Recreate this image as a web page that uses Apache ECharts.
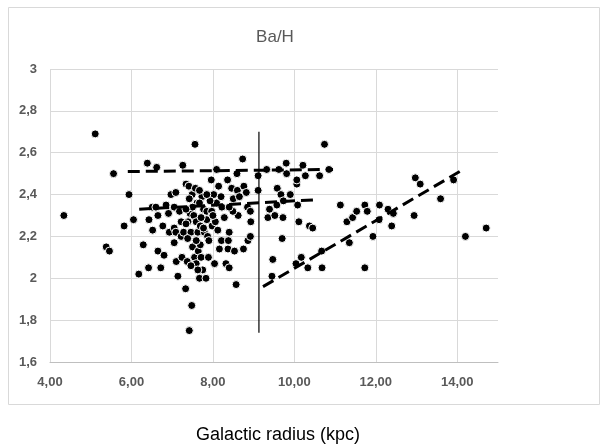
<!DOCTYPE html>
<html>
<head>
<meta charset="utf-8">
<script src="https://cdn.jsdelivr.net/npm/echarts@6/dist/echarts.min.js"></script>
<style>html,body{margin:0;padding:0;background:#fff;}#c{width:607px;height:448px;}</style>
</head>
<body>
<div id="c"></div>
<script>
var radius = [4.34,5.11,5.56,5.38,5.46,5.82,5.94,6.05,6.18,6.29,6.39,6.42,6.43,6.51,6.52,6.62,6.65,6.72,6.77,6.80,6.85,6.91,6.93,6.97,7.05,7.05,7.09,7.05,7.09,7.10,7.14,7.18,7.22,7.24,7.26,7.28,7.33,7.34,7.37,7.39,7.41,7.42,7.44,7.46,7.48,7.49,7.50,7.53,7.55,7.56,7.57,7.59,7.59,7.61,7.63,7.64,7.67,7.69,7.69,7.71,7.73,7.75,7.77,7.79,7.83,7.85,7.87,7.89,7.90,7.96,7.97,7.98,8.02,8.04,8.06,8.09,8.09,8.12,8.14,8.16,8.21,8.22,8.28,8.32,8.36,8.37,8.38,8.40,8.40,8.46,8.50,8.53,8.57,8.59,8.60,8.62,8.73,8.75,8.76,8.82,8.85,8.86,8.92,8.93,8.92,
7.42,7.50,7.67,7.85,7.71,7.38,7.59,7.77,7.93,8.00,7.67,7.34,7.22,7.85,7.46,7.63,7.34,8.20,8.49,8.65,8.40,6.65,6.60,
9.11,9.11,9.32,9.35,9.39,9.45,9.47,9.52,9.57,9.58,9.62,9.67,9.70,9.72,9.73,9.80,9.81,9.90,10.04,10.06,10.08,10.11,10.17,10.21,10.27,10.33,10.37,10.45,10.62,10.67,10.68,10.74,10.85,11.13,11.29,11.35,11.43,11.53,11.73,11.73,11.79,11.93,12.09,12.08,12.30,12.39,12.43,12.94,12.97,13.09,13.59,13.91,14.20,14.71,10.06];
var baH = [2.30,2.69,2.50,2.15,2.13,2.25,2.40,2.28,2.02,2.16,2.55,2.05,2.28,2.34,2.23,2.53,2.13,2.05,2.25,2.11,2.35,2.31,2.22,2.40,2.34,2.17,2.41,2.24,2.22,2.08,2.01,2.32,2.20,2.10,2.54,2.22,1.95,2.45,2.08,2.27,2.44,1.75,2.31,2.22,1.87,2.40,2.15,2.30,2.10,2.64,2.43,2.27,2.07,2.36,2.22,2.13,2.00,2.25,2.16,2.10,2.39,2.04,2.33,2.22,2.00,2.32,2.20,2.10,2.18,2.47,2.32,2.25,2.40,2.07,2.27,2.52,2.36,2.23,2.44,2.14,2.18,2.34,2.29,2.07,2.47,2.14,2.18,2.22,2.05,2.43,2.38,2.13,1.97,2.50,2.42,2.30,2.57,2.14,2.44,2.41,2.34,2.18,2.20,2.27,2.32,
2.38,2.34,2.36,2.28,2.29,2.19,2.18,2.24,2.37,2.30,2.42,2.33,2.27,2.40,2.06,2.04,2.26,2.39,2.32,2.39,2.34,2.30,2.34,
2.49,2.42,2.52,2.29,2.33,2.01,2.09,2.30,2.35,2.43,2.52,2.40,2.19,2.29,2.37,2.55,2.50,2.40,2.07,2.45,2.35,2.27,2.10,2.54,2.49,2.05,2.25,2.24,2.49,2.13,2.05,2.64,2.52,2.35,2.27,2.17,2.29,2.32,2.05,2.35,2.32,2.20,2.35,2.28,2.33,2.25,2.31,2.30,2.48,2.45,2.38,2.47,2.20,2.24,2.47];
var upperTrend = [[5.91,2.51],[10.95,2.52]];
var middleTrend = [[6.19,2.33],[10.49,2.375]];
var outerTrend = [[9.23,1.96],[14.06,2.51]];
var divider = [[9.13,1.74],[9.13,2.70]];
var xTicks = [4,6,8,10,12,14];
var yTicks = [1.6,1.8,2,2.2,2.4,2.6,2.8,3];

var points = radius.map(function(r,i){return [r, baH[i]];});
var chart = echarts.init(document.getElementById('c'));
var gridCol = '#d9d9d9';
function dashed(d){return {type:'line',data:d,showSymbol:false,symbol:'none',silent:true,z:3,
  lineStyle:{color:'#000',width:3,type:[12,6]}};}
chart.setOption({
  animation:false,
  backgroundColor:'#fff',
  graphic:[{type:'rect',shape:{x:8.5,y:7.5,width:591,height:397},style:{fill:'none',stroke:'#d9d9d9',lineWidth:1},silent:true}],
  title:[{text:'Ba/H',left:270,top:24,textAlign:'center',textStyle:{fontFamily:'Liberation Sans',fontSize:17,fontWeight:'normal',color:'#595959'}},
         {text:'Galactic radius (kpc)',left:273,top:421,textAlign:'center',textStyle:{fontFamily:'Liberation Sans, sans-serif',fontSize:18,fontWeight:'normal',color:'#000'}}],
  grid:{left:50,right:109,top:69,bottom:86,containLabel:false},
  xAxis:{type:'value',min:4,max:15,interval:2,
    axisLine:{show:true,lineStyle:{color:'#bfbfbf'}},axisTick:{show:false},
    splitLine:{show:true,lineStyle:{color:[gridCol,gridCol,gridCol,gridCol,gridCol,gridCol,'rgba(0,0,0,0)']}},
    axisLabel:{showMaxLabel:false,margin:14,color:'#595959',fontFamily:'Liberation Sans',fontSize:13,fontWeight:'bold',
      formatter:function(v){return v.toFixed(2).replace('.',',');}}},
  yAxis:{type:'value',min:1.6,max:3,interval:0.2,
    axisLine:{show:false},axisTick:{show:false},
    splitLine:{show:true,lineStyle:{color:gridCol}},
    axisLabel:{margin:13,color:'#595959',fontFamily:'Liberation Sans',fontSize:13,fontWeight:'bold',
      formatter:function(v){return String(Math.round(v*10)/10).replace('.',',');}}},
  series:[
    {type:'scatter',data:points,symbol:'circle',symbolSize:8,z:2,
      itemStyle:{color:'#000',borderColor:'#fff',borderWidth:1,opacity:1}},
    dashed(upperTrend),dashed(middleTrend),dashed(outerTrend),
    {type:'line',data:divider,showSymbol:false,symbol:'none',silent:true,z:3,lineStyle:{color:'#000',width:1.2}}
  ]
});
</script>
</body>
</html>
